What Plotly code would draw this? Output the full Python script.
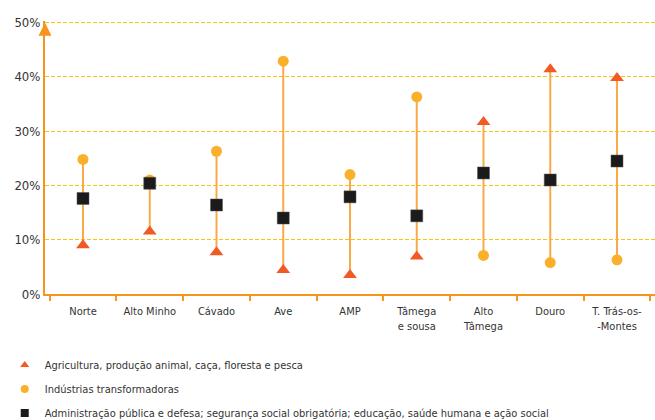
import plotly.graph_objects as go

categories = ["Norte", "Alto Minho", "Cávado", "Ave", "AMP", "Tâmega<br>e sousa",
              "Alto<br>Tâmega", "Douro", "T. Trás-os-<br>-Montes"]
agricultura = [9.0, 11.5, 7.7, 4.4, 3.5, 6.9, 31.7, 41.4, 39.8]
industrias = [24.8, 21.0, 26.3, 42.9, 22.0, 36.3, 7.1, 5.8, 6.3]
administracao = [17.6, 20.4, 16.4, 14.0, 17.9, 14.4, 22.3, 21.0, 24.5]
y_ticks = [0, 10, 20, 30, 40, 50]
y_ticklabels = [f"{v}%" for v in y_ticks]

names = ["Agricultura, produção animal, caça, floresta e pesca",
         "Indústrias transformadoras",
         "Administração pública e defesa; segurança social obrigatória; educação, saúde humana e ação social"]

ORANGE = "#F7941D"
LINE = "#F9A94A"
TRI = "#F15A24"
CIRC = "#FBB02C"
SQ = "#1B1B1B"
GRID = "#F2C811"
FONT = "DejaVu Sans Condensed, Liberation Sans Narrow, Roboto, sans-serif"

# vertical range lines built from the data
lx, ly = [], []
for c, a, i, d in zip(categories, agricultura, industrias, administracao):
    lx += [c, c, None]
    ly += [min(a, i, d), max(a, i, d), None]

fig = go.Figure()
fig.add_trace(go.Scatter(x=lx, y=ly, mode="lines", line=dict(color=LINE, width=2),
                         showlegend=False, hoverinfo="skip"))
fig.add_trace(go.Scatter(x=categories, y=agricultura, mode="markers",
                         marker=dict(symbol="triangle-up", size=12, color=TRI),
                         showlegend=False, cliponaxis=False))
fig.add_trace(go.Scatter(x=categories, y=industrias, mode="markers",
                         marker=dict(symbol="circle", size=11, color=CIRC),
                         showlegend=False, cliponaxis=False))
fig.add_trace(go.Scatter(x=categories, y=administracao, mode="markers",
                         marker=dict(symbol="square", size=12, color=SQ,
                                     line=dict(color="#555", width=0.5)),
                         showlegend=False, cliponaxis=False))

# legend-only entries
for nm, sym, col, grp in [(names[0], "triangle-up", TRI, "a"),
                          (names[1], "circle", CIRC, "b"),
                          (names[2], "square", SQ, "c")]:
    fig.add_trace(go.Scatter(x=[None], y=[None], mode="markers", name=nm, legendgroup=grp,
                             marker=dict(symbol=sym, size=8, color=col)))

fig.add_annotation(x=0, xref="paper", y=50, yref="y", ax=0, ay=14, text="",
                   showarrow=True, arrowhead=2, arrowsize=1.3, arrowwidth=2,
                   arrowcolor=ORANGE)

fig.update_layout(
    width=655, height=420,
    margin=dict(l=45, r=0, t=21, b=126, autoexpand=False),
    plot_bgcolor="white", paper_bgcolor="white",
    font=dict(family=FONT, size=12, color="#333333"),
    xaxis=dict(showline=True, linecolor=ORANGE, linewidth=2, showgrid=False,
               ticks="outside", tickson="boundaries", tickcolor=ORANGE, ticklen=5,
               tickwidth=2, tickfont=dict(size=11, color="#333333"), tickangle=0,
               automargin=False, ticklabelstandoff=6,
               categoryorder="array", categoryarray=categories),
    yaxis=dict(range=[0, 50.3], tickvals=y_ticks, ticktext=y_ticklabels, showline=True,
               linecolor=ORANGE, linewidth=2, showgrid=True, gridcolor=GRID,
               griddash="4px,2px", gridwidth=1.3, zeroline=False,
               tickfont=dict(size=13, color="#333333"), ticks="", automargin=False),
    legend=dict(x=-0.066, y=-0.207, xanchor="left", yanchor="top", orientation="v",
                font=dict(size=11, color="#333333"), tracegroupgap=5,
                itemwidth=30, bgcolor="rgba(0,0,0,0)"),
    showlegend=True,
)

fig.write_html("out.html", config={"displayModeBar": False},
               post_script="document.body.style.margin='0';document.body.style.overflow='hidden';")
